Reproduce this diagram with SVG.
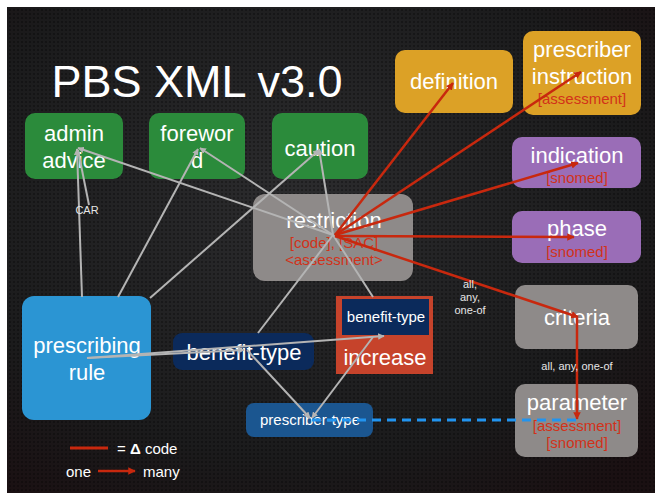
<svg xmlns="http://www.w3.org/2000/svg" width="655" height="493" viewBox="0 0 655 493">
<defs>
<style>
text{font-family:"Liberation Sans",Arial,Helvetica,sans-serif;fill:#ffffff;text-anchor:middle}
.big{font-size:22px}
.sub{font-size:15px;fill:#d2321a}
.sm{font-size:15px}
.tiny{font-size:11px;fill:#e6e6e6}
.g{stroke:#b4b4b4;stroke-width:2;fill:none}
.r{stroke:#c8280e;stroke-width:2.5;fill:none}
.green{fill:#2b8b3b}
.yellow{fill:#dca126}
.purple{fill:#9a6db7}
.grey{fill:#8e8a89}
</style>
<radialGradient id="bg" cx="0.45" cy="0.4" r="0.75">
<stop offset="0" stop-color="#2c2c2e"/>
<stop offset="0.7" stop-color="#1b1b1c"/>
<stop offset="1" stop-color="#1a1012"/>
</radialGradient>
<pattern id="dots" width="4" height="4" patternUnits="userSpaceOnUse">
<circle cx="2" cy="2" r="1.1" fill="#000" fill-opacity="0.35"/>
</pattern>
<marker id="ag" viewBox="0 0 10 10" refX="9" refY="5" markerWidth="6.5" markerHeight="6.5" markerUnits="userSpaceOnUse" orient="auto">
<path d="M0,0 L10,5 L0,10 z" fill="#b4b4b4"/>
</marker>
<marker id="ar" viewBox="0 0 10 10" refX="9" refY="5" markerWidth="7.5" markerHeight="7.5" markerUnits="userSpaceOnUse" orient="auto">
<path d="M0,0 L10,5 L0,10 z" fill="#c8280e"/>
</marker>
</defs>
<rect x="0" y="0" width="655" height="493" fill="#ffffff"/>
<rect x="7" y="7" width="648" height="486" fill="url(#bg)"/>
<rect x="7" y="7" width="648" height="486" fill="url(#dots)"/>

<text x="197" y="97" style="font-size:45px">PBS XML v3.0</text>

<g id="admin-advice"><rect class="green" x="25" y="113" width="98" height="66" rx="10"/><text class="big" x="74" y="141">admin</text><text class="big" x="74" y="168">advice</text></g>
<g id="foreword"><rect class="green" x="149" y="113" width="96" height="66" rx="10"/><text class="big" x="197" y="141">forewor</text><text class="big" x="197" y="168">d</text></g>
<g id="caution"><rect class="green" x="272" y="113" width="96" height="66" rx="10"/><text class="big" x="320" y="156">caution</text></g>
<g id="definition"><rect class="yellow" x="395" y="50" width="118" height="63" rx="10"/><text class="big" x="454" y="89">definition</text></g>
<g id="prescriber-instruction"><rect class="yellow" x="523" y="31" width="118" height="84" rx="10"/><text class="big" x="582" y="57">prescriber</text><text class="big" x="582" y="84">instruction</text><text class="sub" x="582" y="104">[assessment]</text></g>
<g id="indication"><rect class="purple" x="512" y="137" width="129" height="51" rx="10"/><text class="big" x="577" y="163">indication</text><text class="sub" x="577" y="183">[snomed]</text></g>
<g id="phase"><rect class="purple" x="512" y="211" width="129" height="52" rx="10"/><text class="big" x="577" y="236">phase</text><text class="sub" x="577" y="257">[snomed]</text></g>
<g id="restriction"><rect class="grey" x="253" y="194" width="160" height="87" rx="12"/><text class="big" x="334" y="228">restriction</text><text class="sub" x="334" y="248">[code], [SAC]</text><text class="sub" x="334" y="265">&lt;assessment&gt;</text></g>
<g id="criteria"><rect class="grey" x="515" y="285" width="123" height="64" rx="10"/><text class="big" x="577" y="325">criteria</text></g>
<g id="parameter"><rect class="grey" x="515" y="384" width="123" height="73" rx="10"/><text class="big" x="577" y="410">parameter</text><text class="sub" x="577" y="431">[assessment]</text><text class="sub" x="577" y="448">[snomed]</text></g>
<g id="prescribing-rule"><rect x="22" y="296" width="129" height="124" rx="12" fill="#2b95d3"/><text class="big" x="87" y="353">prescribing</text><text class="big" x="87" y="380">rule</text></g>
<g id="benefit-type"><rect x="173" y="333" width="141" height="37" rx="9" fill="#0b2a5b"/><text class="big" x="244" y="360">benefit-type</text></g>
<g id="increase"><rect x="336" y="296" width="97" height="78" fill="#c6432b"/><rect x="342" y="299" width="87" height="36" fill="#0b2a5b"/><text class="sm" x="386" y="322">benefit-type</text><text class="big" x="385" y="365">increase</text></g>
<g id="prescriber-type"><rect x="246" y="403" width="127" height="34" rx="8" fill="#1b5690"/><text class="sm" x="310" y="425">prescriber-type</text></g>

<g id="connectors">
<line class="g" x1="333" y1="235" x2="78" y2="148" marker-end="url(#ag)"/>
<line class="g" x1="333" y1="235" x2="200" y2="148" marker-end="url(#ag)"/>
<line class="g" x1="333" y1="235" x2="319" y2="149" marker-end="url(#ag)"/>
<line class="g" x1="82" y1="297" x2="77" y2="149" marker-end="url(#ag)"/>
<line class="g" x1="89" y1="205" x2="78" y2="150"/>
<line class="g" x1="118" y1="297" x2="198" y2="149" marker-end="url(#ag)"/>
<line class="g" x1="150" y1="298" x2="319" y2="150" marker-end="url(#ag)"/>
<line class="g" x1="258" y1="333" x2="333" y2="235"/>
<line class="g" x1="373" y1="297" x2="333" y2="235"/>
<line class="g" x1="87" y1="358" x2="244" y2="350" marker-end="url(#ag)"/>
<line class="g" x1="87" y1="358" x2="384" y2="336" marker-end="url(#ag)"/>
<line class="g" x1="247" y1="350" x2="310" y2="418" marker-end="url(#ag)"/>
<line class="g" x1="373" y1="337" x2="312" y2="418" marker-end="url(#ag)"/>
<line class="r" x1="335" y1="235" x2="453" y2="83" marker-end="url(#ar)"/>
<line class="r" x1="335" y1="235" x2="581" y2="72" marker-end="url(#ar)"/>
<line class="r" x1="335" y1="235" x2="578" y2="163" marker-end="url(#ar)"/>
<line class="r" x1="335" y1="236" x2="574" y2="237" marker-end="url(#ar)"/>
<line class="r" x1="335" y1="236" x2="578" y2="317" marker-end="url(#ar)"/>
<line class="r" x1="577" y1="318" x2="577" y2="419" marker-end="url(#ar)"/>
<line x1="312" y1="420" x2="577" y2="420" stroke="#2294ef" stroke-width="3" stroke-dasharray="9 6"/>
<text class="tiny" x="87" y="214">CAR</text>
<text class="tiny" x="470" y="288">all,</text>
<text class="tiny" x="470" y="301">any,</text>
<text class="tiny" x="470" y="314">one-of</text>
<text class="tiny" x="577" y="370">all, any, one-of</text>
</g>

<g id="legend">
<line x1="70" y1="448" x2="108" y2="448" stroke="#c8280e" stroke-width="3"/>
<text x="117" y="454" style="font-size:15px;text-anchor:start">= <tspan font-weight="bold">Δ</tspan> code</text>
<text x="66" y="477" style="font-size:15px;text-anchor:start">one</text>
<line x1="98" y1="471" x2="135" y2="471" stroke="#c8280e" stroke-width="2.5" marker-end="url(#ar)"/>
<text x="143" y="477" style="font-size:15px;text-anchor:start">many</text>
</g>
</svg>
